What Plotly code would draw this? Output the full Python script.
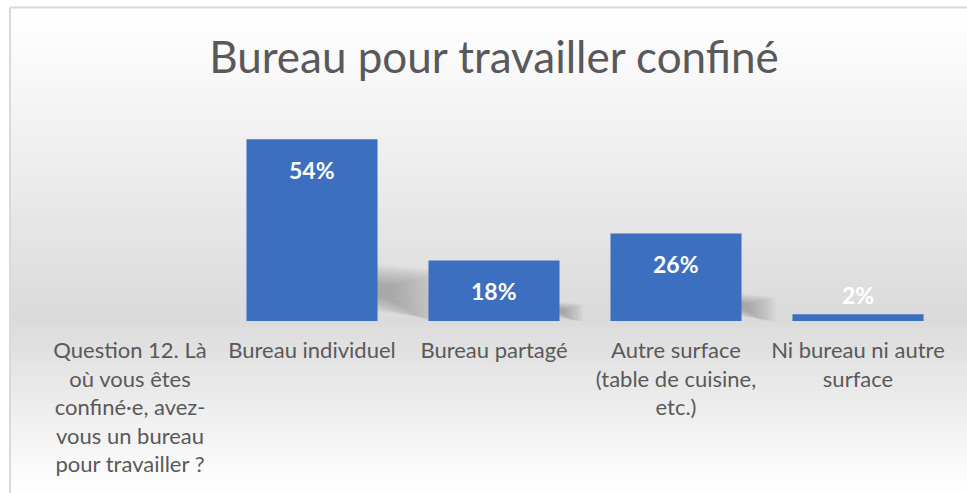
import plotly.graph_objects as go

# Survey answers: where respondents work during lockdown
categories = [
    "Question 12. Là<br>où vous êtes<br>confiné·e, avez-<br>vous un bureau<br>pour travailler ?",
    "Bureau individuel",
    "Bureau partagé",
    "Autre surface<br>(table de cuisine,<br>etc.)",
    "Ni bureau ni autre<br>surface",
]
shares = [None, 0.54, 0.18, 0.26, 0.02]
title_text = "Bureau pour travailler confiné"

W, H = 967, 493
ML, MR, MT, MB = 39, 18, 119, 172
Y_MAX = 0.6
BAR_FRAC = 0.72
FONT = "Lato"
GREY_TXT = "#595959"
BAR_COLOR = "#3d6fc0"

plot_w = W - ML - MR
plot_h = H - MT - MB


def px_to_paper_x(px):
    return (px - ML) / plot_w


def px_to_paper_y(py):
    return (H - MB - py) / plot_h


def lerp_hex(c1, c2, t):
    a = [int(c1[i:i + 2], 16) for i in (1, 3, 5)]
    b = [int(c2[i:i + 2], 16) for i in (1, 3, 5)]
    return "#" + "".join(f"{round(a[k] + (b[k] - a[k]) * t):02x}" for k in range(3))


shapes = []

# Chart-area background: soft vertical gradient darkest near the baseline
def gradient(y_top, y_bot, c_top, c_bot, steps):
    step = (y_bot - y_top) / steps
    for i in range(steps):
        t = i / (steps - 1)
        shapes.append(dict(
            type="rect", xref="paper", yref="paper", layer="below",
            x0=px_to_paper_x(11), x1=px_to_paper_x(W + 2),
            y0=px_to_paper_y(y_top + i * step), y1=px_to_paper_y(y_top + (i + 1) * step + 0.6),
            fillcolor=lerp_hex(c_top, c_bot, t), line_width=0,
        ))

gradient(8, 48, "#ffffff", "#fcfcfc", 4)
gradient(48, 322, "#fbfbfb", "#dadada", 60)
gradient(322, H + 2, "#dcdcdc", "#ffffff", 40)

# Chart border (top and left edges visible)
shapes.append(dict(type="line", xref="paper", yref="paper", layer="above",
                   x0=px_to_paper_x(10), x1=px_to_paper_x(W + 5),
                   y0=px_to_paper_y(7.5), y1=px_to_paper_y(7.5),
                   line=dict(color="#d9d9d9", width=2)))
shapes.append(dict(type="line", xref="paper", yref="paper", layer="above",
                   x0=px_to_paper_x(10), x1=px_to_paper_x(10),
                   y0=px_to_paper_y(7.5), y1=px_to_paper_y(H + 5),
                   line=dict(color="#d9d9d9", width=2)))

# Soft perspective shadows to the right of each bar: stacked translucent
# quads of growing size so the edges fade out
px_per_unit_y = plot_h / Y_MAX
px_per_cat = plot_w / len(categories)
n_layers = 16
for i, v in enumerate(shares):
    if not v:
        continue
    xr = i + BAR_FRAC / 2 - 0.01
    h_px = v * px_per_unit_y
    for k in range(n_layers):
        s = 0.3 + 1.0 * k / (n_layers - 1)
        width = 0.32 * h_px * s / px_per_cat
        top = v * (0.17 + 0.11 * s)
        bot_l = v * (0.17 - 0.09 * s)
        top_r = v * (0.17 + 0.08 * s)
        bot_r = max(0.0, v * (0.17 - 0.19 * s))
        path = (f"M{xr},{bot_l} L{xr},{top} L{xr + width},{top_r} "
                f"L{xr + width},{bot_r} Z")
        shapes.append(dict(type="path", xref="x", yref="y", layer="below",
                           path=path, fillcolor="rgba(110,110,110,0.036)", line_width=0))

fig = go.Figure(go.Bar(
    x=list(range(len(categories))),
    y=shares,
    width=BAR_FRAC,
    marker=dict(color=BAR_COLOR, line_width=0),
    hoverinfo="skip",
))

annotations = []
for i, v in enumerate(shares):
    if v is None:
        continue
    inside = v >= 0.1
    annotations.append(dict(
        x=i, y=v, xref="x", yref="y", text=f"<b>{round(v * 100)}%</b>",
        showarrow=False, yanchor="middle", yshift=-31 if inside else 19,
        font=dict(family=FONT, size=23, color="#ffffff"),
    ))

fig.update_layout(
    width=W, height=H,
    margin=dict(l=ML, r=MR, t=MT, b=MB, pad=0),
    paper_bgcolor="#ffffff",
    plot_bgcolor="rgba(0,0,0,0)",
    showlegend=False,
    title=dict(text=title_text, x=0.5, xref="paper", xanchor="center",
               y=1 - 58 / H, yanchor="middle",
               font=dict(family=FONT, size=44, color=GREY_TXT)),
    xaxis=dict(range=[-0.5, len(categories) - 0.5], tickmode="array",
               tickvals=list(range(len(categories))), ticktext=categories,
               showgrid=False, zeroline=False, showline=False, ticks="",
               tickangle=0, ticklabelstandoff=14,
               tickfont=dict(family=FONT, size=22, color=GREY_TXT)),
    yaxis=dict(range=[0, Y_MAX], visible=False, fixedrange=True),
    shapes=shapes,
    annotations=annotations,
)

fig.write_html("out.html")
